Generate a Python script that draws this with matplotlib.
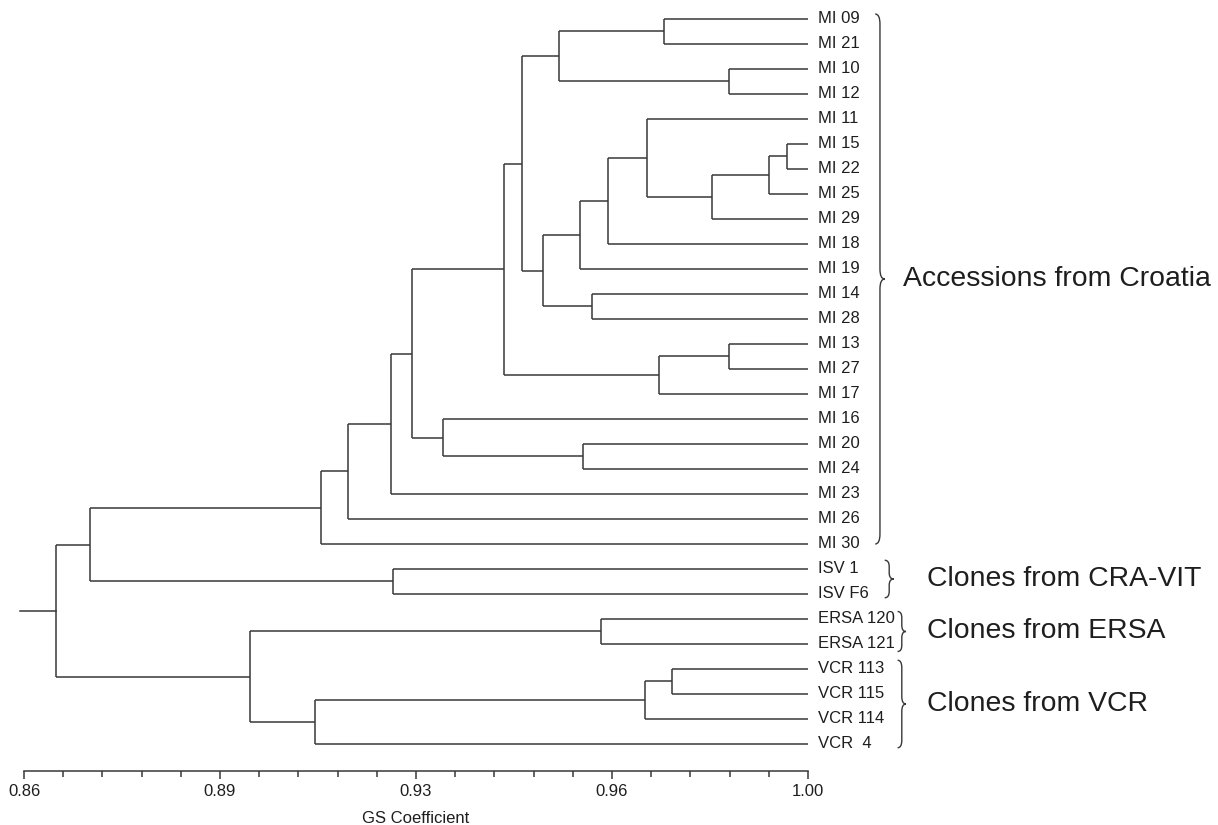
import matplotlib
matplotlib.use('Agg')
import matplotlib.pyplot as plt
from matplotlib.path import Path
from matplotlib.patches import PathPatch
import matplotlib.transforms as mtransforms
from matplotlib.ticker import FixedLocator

plt.rcParams['font.family'] = ['Liberation Sans', 'DejaVu Sans']

# ---------------- data ----------------
leaf_labels = ["MI 09", "MI 21", "MI 10", "MI 12", "MI 11", "MI 15", "MI 22", "MI 25",
               "MI 29", "MI 18", "MI 19", "MI 14", "MI 28", "MI 13", "MI 27", "MI 17",
               "MI 16", "MI 20", "MI 24", "MI 23", "MI 26", "MI 30", "ISV 1", "ISV F6",
               "ERSA 120", "ERSA 121", "VCR 113", "VCR 115", "VCR 114", "VCR  4"]

# merges: node index n_leaves + k joins merge_left[k] and merge_right[k] at merge_height[k]
merge_left = [0, 2, 30, 5, 33, 34, 4, 36, 37, 11, 38, 32, 13, 42, 41, 17, 16, 44, 47, 48,
              49, 22, 50, 24, 26, 54, 55, 53, 52]
merge_right = [1, 3, 31, 6, 7, 8, 35, 9, 10, 12, 39, 40, 14, 15, 43, 18, 45, 46, 19, 20,
               21, 23, 51, 25, 27, 28, 29, 56, 57]
merge_height = [0.9742, 0.9859, 0.9555, 0.9963, 0.9931, 0.9828, 0.9713, 0.9642, 0.9593,
                0.9615, 0.9527, 0.9489, 0.9859, 0.9734, 0.9458, 0.9599, 0.9348, 0.9293,
                0.9255, 0.9179, 0.9130, 0.9259, 0.8718, 0.9630, 0.9758, 0.9709, 0.9120,
                0.9004, 0.8657]
leaf_similarity = 1.00
root_stem_start = 0.8593

group_names = ["Accessions from Croatia", "Clones from CRA-VIT", "Clones from ERSA",
               "Clones from VCR"]
group_first = [0, 22, 24, 26]
group_last = [21, 23, 25, 29]

tick_positions = [0.86, 0.895, 0.93, 0.965, 1.00]
tick_labels = ["0.86", "0.89", "0.93", "0.96", "1.00"]
axis_label = "GS Coefficient"

# ---------------- styling ----------------
line_color = "#383838"
text_color = "#1e1e1e"
lw = 1.1

fig = plt.figure(figsize=(12.18, 8.25), dpi=100)
ax = fig.add_axes([0, 0, 1, 1])
ax.set_xlim(0.855714, 1.073214)
ax.set_ylim(32.24, -0.76)

n = len(leaf_labels)
node_x = {i: leaf_similarity for i in range(n)}
node_y = {i: float(i) for i in range(n)}
for k, (a, b, h) in enumerate(zip(merge_left, merge_right, merge_height)):
    ya, yb = node_y[a], node_y[b]
    ax.plot([h, h], [ya, yb], color=line_color, lw=lw, solid_capstyle='butt')
    ax.plot([h, node_x[a]], [ya, ya], color=line_color, lw=lw, solid_capstyle='butt')
    ax.plot([h, node_x[b]], [yb, yb], color=line_color, lw=lw, solid_capstyle='butt')
    node_x[n + k] = h
    node_y[n + k] = (ya + yb) / 2.0

root = n + len(merge_height) - 1
ax.plot([root_stem_start, node_x[root]], [node_y[root]] * 2, color=line_color, lw=lw)

# leaf labels
lab_tr = mtransforms.offset_copy(ax.transData, fig=fig, x=7.0, y=0, units='points')
for i, lab in enumerate(leaf_labels):
    ax.text(leaf_similarity, i, lab, transform=lab_tr, ha='left', va='center',
            fontsize=12, color=text_color)

# braces and group labels
brace_x = [1.0120, 1.0137, 1.0160, 1.0160]
brace_w = [0.0017, 0.0016, 0.0015, 0.0015]
brace_pad_top = [0.2, 0.35, 0.3, 0.35]
brace_pad_bot = [0.0, 0.15, 0.3, 0.15]
brace_r = [0.4, 0.25, 0.25, 0.3]
label_x = [1.0170, 1.0213, 1.0213, 1.0213]

for g, name in enumerate(group_names):
    y1 = group_first[g] - brace_pad_top[g]
    y2 = group_last[g] + brace_pad_bot[g]
    x0 = brace_x[g]
    w = brace_w[g]
    xm = x0 + w / 2
    ym = (y1 + y2) / 2
    r = brace_r[g]
    verts = [(x0, y1), (xm, y1), (xm, y1 + r), (xm, ym - r), (xm, ym), (x0 + w, ym),
             (xm, ym), (xm, ym + r), (xm, y2 - r), (xm, y2), (x0, y2)]
    codes = [Path.MOVETO, Path.CURVE3, Path.CURVE3, Path.LINETO, Path.CURVE3, Path.CURVE3,
             Path.CURVE3, Path.CURVE3, Path.LINETO, Path.CURVE3, Path.CURVE3]
    ax.add_patch(PathPatch(Path(verts, codes), fill=False, edgecolor=line_color, lw=1.0))
    ax.text(label_x[g], ym, name, ha='left', va='center', fontsize=20.4, color=text_color)

# axis
for s in ['top', 'right', 'left']:
    ax.spines[s].set_visible(False)
ax.spines['bottom'].set_position(('data', 30.08))
ax.spines['bottom'].set_bounds(tick_positions[0], tick_positions[-1])
ax.spines['bottom'].set_color(line_color)
ax.spines['bottom'].set_linewidth(lw)
ax.xaxis.set_major_locator(FixedLocator(tick_positions))
ax.set_xticklabels(tick_labels)
ax.xaxis.set_minor_locator(FixedLocator(
    [tick_positions[0] + 0.007 * j for j in range(21) if j % 5 != 0]))
ax.tick_params(axis='x', which='major', length=5.5, width=lw, color=line_color,
               direction='out', pad=4, labelsize=12, labelcolor=text_color)
ax.tick_params(axis='x', which='minor', length=4, width=lw, color=line_color,
               direction='out')
ax.set_yticks([])
ax.text(0.93, 32.0, axis_label, ha='center', va='center', fontsize=12, color=text_color)
ax.patch.set_visible(False)

fig.savefig("out.png", dpi=100, facecolor='white')
